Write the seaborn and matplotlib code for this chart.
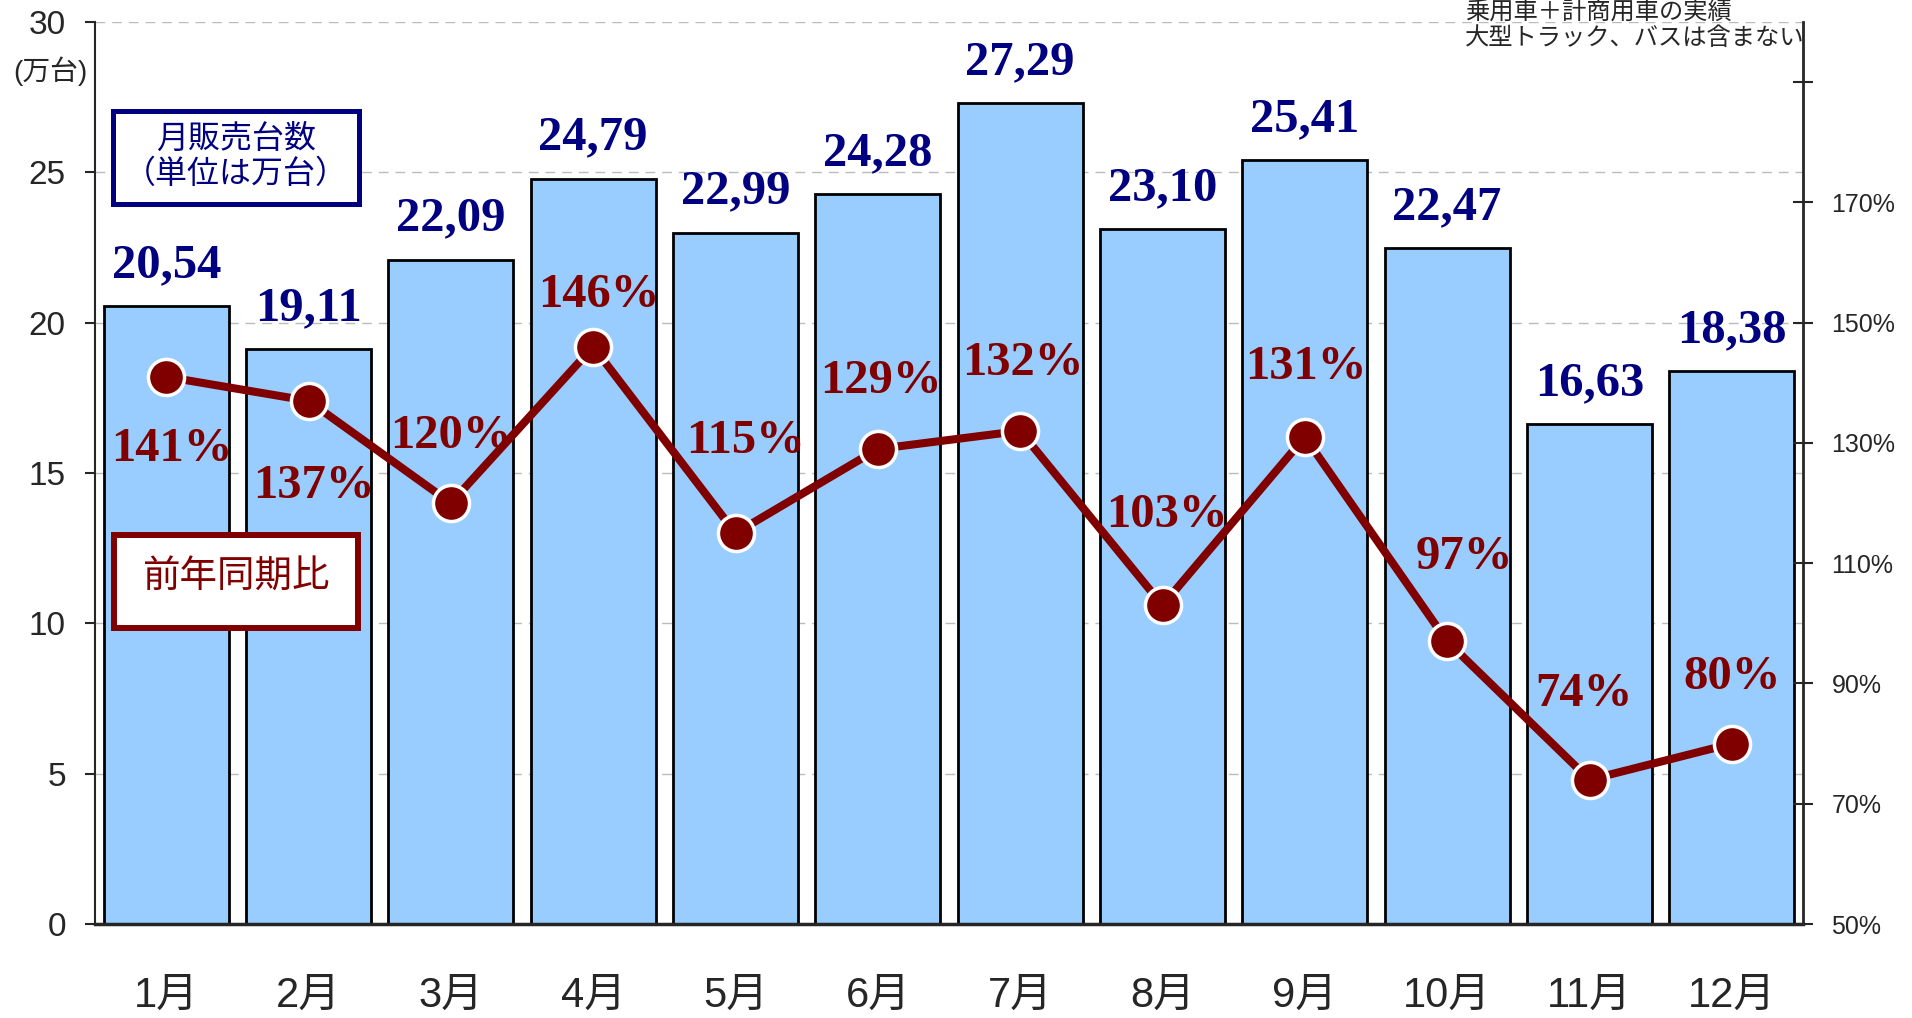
import numpy as np
import matplotlib
matplotlib.use('Agg')
import matplotlib.pyplot as plt
import matplotlib.patches as mpatches
import seaborn as sns

# -------------------------------
# Data
# -------------------------------
months = ['1月', '2月', '3月', '4月', '5月', '6月',
          '7月', '8月', '9月', '10月', '11月', '12月']
sales = [20.54, 19.11, 22.09, 24.79, 22.99, 24.28,
         27.29, 23.10, 25.41, 22.47, 16.63, 18.38]   # 万台
yoy = [141, 137, 120, 146, 115, 129, 132, 103, 131, 97, 74, 80]  # 前年同期比 %

left_ticks = [0, 5, 10, 15, 20, 25, 30]
right_ticks = [50, 70, 90, 110, 130, 150, 170, 190]
right_labels = ['50%', '70%', '90%', '110%', '130%', '150%', '170%', '']

# where each % label sits relative to its point (points)
pct_offsets = [(4, -52), (4, -61), (0, 48), (4, 37), (7, 66), (2, 49),
               (2, 49), (3, 65), (1, 50), (12, 61), (-4, 62), (0, 48)]

NAVY = '#000080'
DARKRED = '#800000'

sns.set_style('white')
plt.rcParams['font.family'] = ['Liberation Sans', 'Noto Sans CJK JP']

fig = plt.figure(figsize=(19.12, 10.18), dpi=100)
ax = fig.add_axes([0.0497, 0.0923, 0.8933, 0.8861])

# -------------------------------
# Bars (monthly sales)
# -------------------------------
ax.set_axisbelow(True)
ax.yaxis.grid(True, linestyle=(0, (7, 5)), color='#BBBBBB', linewidth=1)
sns.barplot(x=months, y=sales, color='#99CCFF', saturation=1, width=0.88,
            edgecolor='black', linewidth=2, ax=ax)

ax.set_xlim(-0.5, 11.5)
ax.set_ylim(0, 30)
ax.set_xlabel('')
ax.set_ylabel('')
ax.set_xticks(np.arange(-0.5, 12, 1))
ax.set_xticklabels([])
ax.set_xticks(np.arange(len(months)), labels=months, minor=True)
ax.tick_params(axis='x', which='major', direction='out', length=11, width=1.5)
ax.tick_params(axis='x', which='minor', length=0, pad=37, labelsize=30)
ax.set_yticks(left_ticks)
ax.tick_params(axis='y', direction='out', length=7, width=1.5, labelsize=24, pad=14)
for s in ['top', 'right']:
    ax.spines[s].set_visible(False)
ax.spines['left'].set_linewidth(1.5)
ax.spines['bottom'].set_linewidth(2.5)

for i, v in enumerate(sales):
    ax.annotate(f"{v:.2f}".replace('.', ','), xy=(i, v), xytext=(0, 21),
                textcoords='offset points', ha='center', va='baseline',
                fontsize=35, fontweight='bold', family='Liberation Serif', color=NAVY)

# -------------------------------
# Line (year-on-year ratio)
# -------------------------------
ax2 = ax.twinx()
sns.lineplot(x=np.arange(len(yoy)), y=yoy, ax=ax2, color=DARKRED, linewidth=5.8,
             marker='o', markersize=26, markerfacecolor=DARKRED,
             markeredgecolor='white', markeredgewidth=2.5)
ax2.set_ylim(50, 200)
ax2.set_yticks(right_ticks, labels=right_labels)
ax2.set_ylabel('')
ax2.tick_params(axis='y', direction='inout', length=15, width=1.5, labelsize=18, pad=13)
for s in ['top', 'left', 'bottom']:
    ax2.spines[s].set_visible(False)
ax2.spines['right'].set_linewidth(2)

for i, p in enumerate(yoy):
    dx, dy = pct_offsets[i]
    ax2.annotate(f"{p}%", xy=(i, p), xytext=(dx, dy), textcoords='offset points',
                 ha='center', va='center', fontsize=35, fontweight='bold',
                 family='Liberation Serif', color=DARKRED, zorder=5)

# -------------------------------
# Legend boxes and notes
# -------------------------------
W, H = 1912, 1018
fig.add_artist(mpatches.Rectangle((113 / W, 1 - 204 / H), 246 / W, 93 / H,
                                  transform=fig.transFigure, fc='white', ec=NAVY,
                                  lw=3.6, zorder=10))
fig.text(236 / W, 1 - 157 / H, '月販売台数\n（単位は万台）', ha='center', va='center',
         fontsize=23, color=NAVY, linespacing=1.2, zorder=11)

fig.add_artist(mpatches.Rectangle((114 / W, 1 - 628 / H), 244 / W, 93 / H,
                                  transform=fig.transFigure, fc='white', ec=DARKRED,
                                  lw=4.3, zorder=10))
fig.text(236 / W, 1 - 578 / H, '前年同期比', ha='center', va='center',
         fontsize=27, color=DARKRED, zorder=11)

fig.text(50 / W, 1 - 71 / H, '(万台)', ha='center', va='center', fontsize=20)
fig.text(1465 / W, 1 - 25 / H, '乗用車＋計商用車の実績\n大型トラック、バスは含まない',
         ha='left', va='center', fontsize=17.5, linespacing=1.2)

fig.savefig('out.png', dpi=100)
